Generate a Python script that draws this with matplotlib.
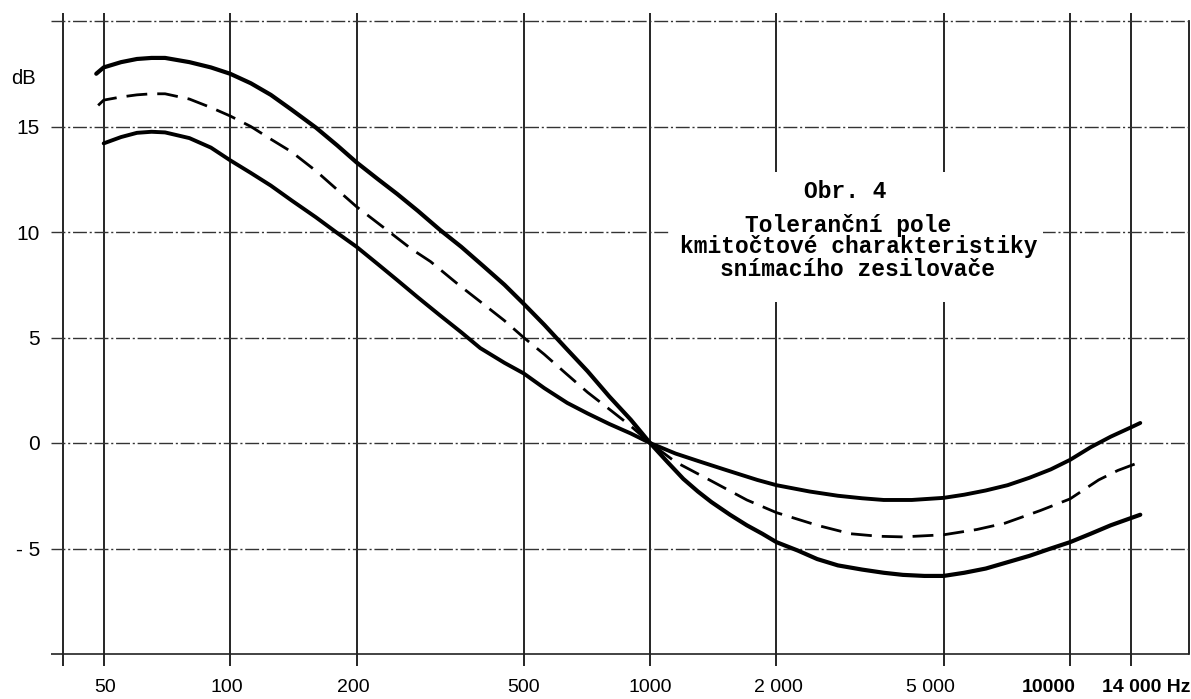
import matplotlib
matplotlib.use('Agg')
import matplotlib.pyplot as plt
import matplotlib.transforms as mtransforms
from matplotlib.patches import Rectangle

# ---------------- data ----------------
# tolerance curve 1: upper limit at low frequencies, lower limit at high frequencies
freq_c1 = [48, 50, 55, 60, 65, 70, 80, 90, 100, 112, 125, 140, 160, 180, 200,
           225, 250, 280, 316, 355, 400, 450, 500, 560, 630, 710, 800, 900,
           1000, 1100, 1200, 1300, 1400, 1550, 1700, 1850, 2000, 2250, 2500,
           2800, 3200, 3600, 4000, 4500, 5000, 5600, 6300, 7100, 8000, 9000,
           10000, 11200, 12500, 14000, 14700]
db_c1 = [17.5, 17.8, 18.05, 18.2, 18.25, 18.25, 18.05, 17.8, 17.5, 17.05, 16.5,
         15.8, 14.95, 14.1, 13.3, 12.5, 11.8, 11.0, 10.1, 9.3, 8.4, 7.5, 6.6,
         5.6, 4.5, 3.4, 2.2, 1.1, 0.0, -0.9, -1.7, -2.3, -2.8, -3.4, -3.9,
         -4.3, -4.7, -5.1, -5.5, -5.8, -6.0, -6.15, -6.25, -6.3, -6.3, -6.15,
         -5.95, -5.65, -5.35, -5.0, -4.7, -4.3, -3.9, -3.55, -3.4]

# tolerance curve 2: lower limit at low frequencies, upper limit at high frequencies
freq_c2 = [50, 55, 60, 65, 70, 80, 90, 100, 112, 125, 140, 160, 180, 200, 225,
           250, 280, 316, 355, 394, 450, 500, 560, 635, 710, 800, 900, 1000,
           1150, 1300, 1500, 1800, 2000, 2400, 2800, 3200, 3600, 4200, 5000,
           5600, 6300, 7100, 8000, 9000, 10000, 11200, 12500, 14000, 14700]
db_c2 = [14.2, 14.5, 14.7, 14.75, 14.72, 14.45, 14.0, 13.4, 12.8, 12.2, 11.5,
         10.7, 9.95, 9.3, 8.47, 7.72, 6.9, 6.05, 5.25, 4.5, 3.8, 3.3, 2.6, 1.9,
         1.4, 0.9, 0.45, 0.0, -0.5, -0.85, -1.25, -1.75, -2.0, -2.3, -2.5,
         -2.62, -2.7, -2.7, -2.6, -2.45, -2.25, -2.0, -1.65, -1.25, -0.8, -0.2,
         0.3, 0.75, 0.95]

# nominal (dashed) curve
freq_mid = [48.5, 50, 55, 60, 65, 70, 80, 90, 100, 112, 125, 140, 160, 180,
            200, 236, 270, 300, 350, 400, 450, 500, 560, 630, 710, 800, 900,
            1000, 1150, 1400, 1700, 2000, 2500, 3000, 3500, 4000, 5000, 6000,
            7000, 8500, 10000, 11700, 13000, 14700]
db_mid = [16.0, 16.25, 16.4, 16.5, 16.55, 16.55, 16.3, 15.9, 15.5, 15.0, 14.4,
          13.8, 12.9, 12.0, 11.2, 10.1, 9.2, 8.6, 7.5, 6.6, 5.8, 5.0, 4.2, 3.3,
          2.4, 1.6, 0.8, 0.0, -0.9, -1.8, -2.7, -3.3, -3.9, -4.3, -4.42, -4.45,
          -4.35, -4.1, -3.8, -3.2, -2.65, -1.75, -1.3, -0.9]

x_grid = [40, 50, 100, 200, 500, 1000, 2000, 5000, 10000, 14000]
x_tick_vals = [50, 100, 200, 500, 1000, 2000, 5000, 10000, 14000]
x_tick_labels = ['50', '100', '200', '500', '1000', '2 000', '5 000', '10000', '14 000 Hz']
y_grid = [-10, -5, 0, 5, 10, 15, 20]
y_tick_vals = [-5, 0, 5, 10, 15]
y_tick_labels = ['- 5', '0', '5', '10', '15']
unit_y = 'dB'
title_lines = ['Obr. 4', 'Toleranční pole', 'kmitočtové charakteristiky',
               'snímacího zesilovače']

# ---------------- layout ----------------
W, H = 1191, 699
L, R, T, B = 63, 1189, 21, 654
PX_PER_DEC = 420.0

fig = plt.figure(figsize=(W / 100, H / 100), dpi=100)
fig.patch.set_facecolor('white')
ax = fig.add_axes([L / W, 1 - B / H, (R - L) / W, (B - T) / H])
ax.set_xscale('log')
xmax = 1000 * 10 ** ((R - 650) / PX_PER_DEC)
ax.set_xlim(40, xmax)
ax.set_ylim(-10, 20)
for s in ax.spines.values():
    s.set_visible(False)
ax.set_facecolor('white')

px_per_db = (B - T) / 30.0

# vertical grid lines (extend beyond the frame like in the drawing)
ax.vlines(x_grid, -10 - 12 / px_per_db, 20 + 8 / px_per_db, colors='black',
          linewidth=1.2, clip_on=False, zorder=1)
# right border
trans_r = mtransforms.blended_transform_factory(ax.transAxes, ax.transData)
ax.plot([1, 1], [-10, 20], transform=trans_r, color='black', lw=1.2,
        clip_on=False, zorder=1)

# horizontal grid lines
x_left_ext = 40 * 10 ** (-12 / PX_PER_DEC)
for yv in y_grid:
    if yv == -10:
        ax.hlines(yv, x_left_ext, xmax, colors='#222222', linewidth=1.2,
                  clip_on=False, zorder=1)
    else:
        ax.hlines(yv, x_left_ext, xmax, colors='#333333', linewidth=1.0,
                  linestyles=(0, (10, 2, 1.5, 2)), clip_on=False, zorder=1)

# white area behind the caption (interrupts grid lines)
ax.add_patch(Rectangle((670 / W, 1 - 302 / H), 373 / W, 130 / H,
                       transform=fig.transFigure, facecolor='white',
                       edgecolor='none', clip_on=False, zorder=2))

# curves
ax.plot(freq_c1, db_c1, color='black', lw=3.0, solid_capstyle='round',
        solid_joinstyle='round', zorder=3, clip_on=False)
ax.plot(freq_c2, db_c2, color='black', lw=2.8, solid_capstyle='round',
        solid_joinstyle='round', zorder=3, clip_on=False)
ax.plot(freq_mid, db_mid, color='black', lw=2.0, dashes=(7.5, 3.6),
        zorder=3, clip_on=False)

# y tick labels
tick_font = ['Liberation Sans', 'DejaVu Sans']
ax.set_xticks([])
ax.set_xticks([], minor=True)
ax.set_yticks(y_tick_vals)
ax.set_yticklabels(y_tick_labels, fontsize=15, family=tick_font)
ax.tick_params(axis='y', length=0, pad=16.5)
fig.text(36 / W, 1 - 78 / H, unit_y, ha='right', va='center', fontsize=14.5,
         family=tick_font)

# x tick labels
x_dx = [1, -3, -3, 0, 0, 2, -13, -21, -29]
for val, lbl, dx in zip(x_tick_vals, x_tick_labels, x_dx):
    last = lbl.endswith('Hz')
    bold = val >= 10000
    ax.annotate(lbl, xy=(val, -10), xycoords='data', xytext=(dx, -34),
                textcoords='offset pixels', ha='left' if last else 'center',
                va='center', fontsize=14, family=tick_font,
                fontweight='bold' if bold else 'normal', annotation_clip=False)

# caption
cap_font = ['Liberation Mono', 'DejaVu Sans Mono']
cap_pos = [(845, 192), (848, 225), (859, 247), (858, 270)]
for line, (cx, cy) in zip(title_lines, cap_pos):
    fig.text(cx / W, 1 - cy / H, line, ha='center', va='center', fontsize=16.5,
             family=cap_font, fontweight='bold', zorder=5)

fig.savefig('out.png', dpi=100, facecolor='white')
